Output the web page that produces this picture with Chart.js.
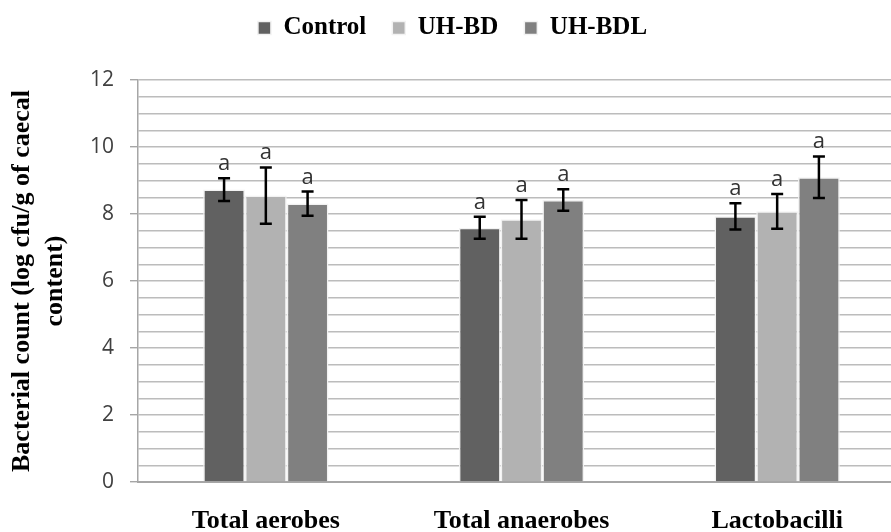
<!DOCTYPE html>
<html>
<head>
<meta charset="utf-8">
<script src="https://cdn.jsdelivr.net/npm/chart.js@4.4.0/dist/chart.umd.min.js"></script>
<style>
html,body{margin:0;padding:0;background:#fff;overflow:hidden;}
#wrap{width:905px;height:532px;position:relative;}
</style>
</head>
<body>
<div id="wrap"><canvas id="c" width="905" height="532"></canvas></div>
<script>
const categories = ['Total aerobes', 'Total anaerobes', 'Lactobacilli'];
const seriesNames = ['Control', 'UH-BD', 'UH-BDL'];
const controlValues = [8.73, 7.59, 7.93];
const controlErrors = [0.34, 0.33, 0.39];
const uhbdValues = [8.55, 7.84, 8.08];
const uhbdErrors = [0.84, 0.58, 0.52];
const uhbdlValues = [8.31, 8.42, 9.10];
const uhbdlErrors = [0.36, 0.32, 0.62];
const controlLetters = ['a', 'a', 'a'];
const uhbdLetters = ['a', 'a', 'a'];
const uhbdlLetters = ['a', 'a', 'a'];
const yTickLabels = [0, 2, 4, 6, 8, 10, 12];

const colors = ['#616161', '#b2b2b2', '#808080'];
const errors = [controlErrors, uhbdErrors, uhbdlErrors];
const letters = [controlLetters, uhbdLetters, uhbdlLetters];

const errorBarPlugin = {
  id: 'errorBars',
  afterDatasetsDraw(chart) {
    const ctx = chart.ctx;
    const y = chart.scales.y;
    chart.data.datasets.forEach((ds, di) => {
      const meta = chart.getDatasetMeta(di);
      meta.data.forEach((bar, i) => {
        const v = ds.data[i], e = errors[di][i];
        const yt = y.getPixelForValue(v + e), yb = y.getPixelForValue(v - e);
        const x = bar.x;
        ctx.save();
        ctx.strokeStyle = '#000';
        ctx.lineWidth = 2.5;
        ctx.beginPath();
        ctx.moveTo(x, yt); ctx.lineTo(x, yb);
        ctx.moveTo(x - 6, yt); ctx.lineTo(x + 6, yt);
        ctx.moveTo(x - 6, yb); ctx.lineTo(x + 6, yb);
        ctx.stroke();
        ctx.fillStyle = '#333';
        ctx.font = '22px "Open Sans"';
        ctx.textAlign = 'center';
        ctx.textBaseline = 'alphabetic';
        ctx.fillText(letters[di][i], x, yt - 8);
        ctx.restore();
      });
    });
  }
};

const xLabelPlugin = {
  id: 'xLabels',
  afterDraw(chart) {
    const ctx = chart.ctx;
    const xs = chart.scales.x;
    categories.forEach((lab, i) => {
      const x = xs.getPixelForValue(i);
      ctx.save();
      ctx.font = 'bold 26px "Liberation Serif"';
      ctx.fillStyle = '#000';
      ctx.textAlign = 'center';
      ctx.textBaseline = 'alphabetic';
      ctx.fillText(lab, x, 528);
      ctx.restore();
    });
  }
};

new Chart(document.getElementById('c'), {
  type: 'bar',
  data: {
    labels: categories,
    datasets: [
      { label: seriesNames[0], data: controlValues, backgroundColor: colors[0] },
      { label: seriesNames[1], data: uhbdValues, backgroundColor: colors[1] },
      { label: seriesNames[2], data: uhbdlValues, backgroundColor: colors[2] }
    ].map(d => Object.assign(d, { borderColor: '#f2f2f2', borderWidth: 1.5, barPercentage: 1.0, categoryPercentage: 0.49 }))
  },
  options: {
    responsive: false,
    animation: false,
    layout: { padding: { top: -10.5, left: 0, right: 0, bottom: 0 } },
    plugins: {
      legend: {
        position: 'top',
        align: 'center',
        labels: {
          boxWidth: 13, boxHeight: 13, padding: 26,
          color: '#000',
          font: { family: '"Liberation Serif"', size: 25, weight: 'bold' }
        }
      },
      subtitle: {
        display: true,
        text: ' ',
        position: 'top',
        weight: 500,
        font: { size: 10, lineHeight: 1 },
        padding: { top: 0, bottom: 19.5 }
      },
      tooltip: { enabled: false }
    },
    scales: {
      x: {
        grid: { display: false },
        border: { display: true, color: '#a6a6a6', width: 2 },
        ticks: { display: false },
        afterFit(scale) { scale.height = 50; }
      },
      y: {
        min: 0, max: 12,
        grid: {
          color: '#bcbcbc', lineWidth: 1.4, tickLength: 8,
          tickColor: (c) => (c.tick && yTickLabels.includes(c.tick.value)) ? '#a6a6a6' : 'rgba(0,0,0,0)'
        },
        border: { display: true, color: '#a6a6a6', width: 1.5 },
        ticks: {
          stepSize: 0.5, autoSkip: false, padding: 16,
          color: '#404040',
          font: { family: '"Open Sans"', size: 21 },
          callback: (v) => yTickLabels.includes(v) ? String(v) : ''
        },
        title: {
          display: true,
          text: ['Bacterial count (log cfu/g of caecal', 'content)'],
          color: '#000',
          font: { family: '"Liberation Serif"', size: 26, weight: 'bold', lineHeight: 1.3 },
          padding: { top: 5, bottom: 0 }
        },
        afterFit(scale) { scale.width = 138; }
      }
    }
  },
  plugins: [errorBarPlugin, xLabelPlugin]
});
</script>
</body>
</html>
